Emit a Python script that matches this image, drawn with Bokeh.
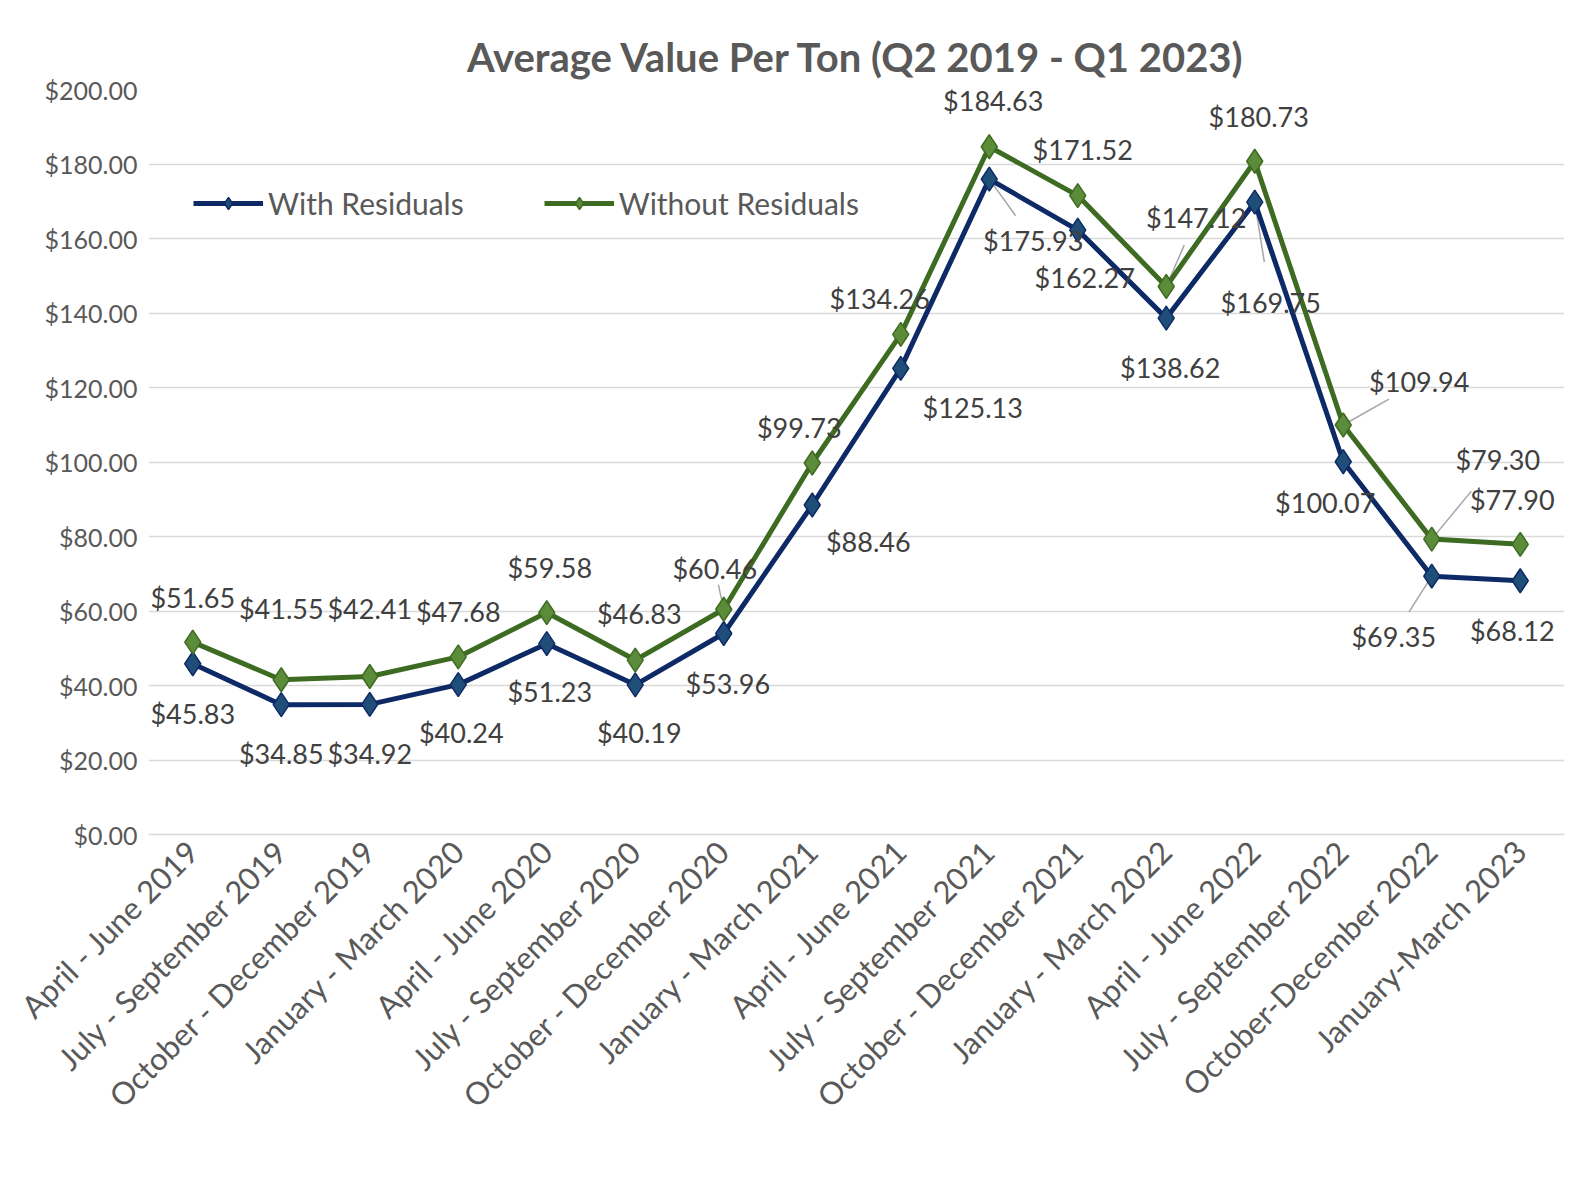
import math
from bokeh.plotting import figure
from bokeh.models import ColumnDataSource, NumeralTickFormatter, Legend, LegendItem, FactorRange
from bokeh.core.properties import value
from bokeh.transform import dodge
from bokeh.embed import file_html
from bokeh.resources import INLINE

categories = ["April - June 2019", "July - September 2019", "October - December 2019",
              "January - March 2020", "April - June 2020", "July - September 2020",
              "October - December 2020", "January - March 2021", "April - June 2021",
              "July - September 2021", "October - December 2021", "January - March 2022",
              "April - June 2022", "July - September 2022", "October-December 2022",
              "January-March 2023"]
with_res = [45.83, 34.85, 34.92, 40.24, 51.23, 40.19, 53.96, 88.46, 125.13, 175.93,
            162.27, 138.62, 169.75, 100.07, 69.35, 68.12]
without_res = [51.65, 41.55, 42.41, 47.68, 59.58, 46.83, 60.46, 99.73, 134.26, 184.63,
               171.52, 147.12, 180.73, 109.94, 79.30, 77.90]

# label placement offsets (screen pixels)
blue_dx = [0, 0, 0, 3, 3, 4, 4, 56, 72, 44, 7, 4, 16, -18, -38, -8]
blue_dy = [50, 49, 49, 48, 48, 48, 50, 37, 39, 61, 47, 49, 100, 41, 60, 50]
green_dx = [0, 0, 0, 0, 3, 4, -9, -13, -21, 4, 5, 30, 4, 76, 66, -8]
green_dy = [-45, -71, -68, -45, -45, -47, -41, -36, -36, -46, -46, -69, -45, -43, -80, -45]

BLUE_LINE = "#0E2A66"
BLUE_MK = "#1F4E79"
GREEN_LINE = "#3E6B22"
GREEN_MK = "#5B8C3A"
FONT = "Lato"

p = figure(width=1567, height=1185, x_range=FactorRange(*categories), y_range=(0, 200),
           output_backend="svg", toolbar_location=None,
           min_border_left=148, min_border_right=3, min_border_top=89, min_border_bottom=351)
p.title.text = "Average Value Per Ton (Q2 2019 - Q1 2023)"
p.title.align = "center"
p.title.text_font = FONT
p.title.text_font_size = "40px"
p.title.text_color = "#595959"
p.title.text_font_style = "bold"
p.title.standoff = 18
p.outline_line_color = None
p.xgrid.grid_line_color = None
p.ygrid.grid_line_color = "#D9D9D9"
p.ygrid.grid_line_width = 1.5
p.yaxis.ticker = list(range(0, 201, 20))
p.yaxis.formatter = NumeralTickFormatter(format="$0.00")
p.yaxis.axis_line_color = None
p.yaxis.major_tick_line_color = None
p.yaxis.minor_tick_line_color = None
p.xaxis.axis_line_color = "#D9D9D9"
p.xaxis.axis_line_width = 1.5
p.xaxis.major_tick_line_color = None
p.xaxis.major_label_orientation = math.pi / 4
for ax in (p.xaxis, p.yaxis):
    ax.major_label_text_font = FONT
    ax.major_label_text_color = "#595959"
p.xaxis.major_label_text_font_size = "31px"
p.yaxis.major_label_text_font_size = "25px"

src = ColumnDataSource(dict(x=categories, w=with_res, wo=without_res,
                            wl=[f"${v:.2f}" for v in with_res],
                            wol=[f"${v:.2f}" for v in without_res],
                            bdx=blue_dx, bdy=blue_dy, gdx=green_dx, gdy=green_dy))

# leader lines (convert pixel offsets to data units)
px_y = 745 / 200.0
px_x = 1416 / 16.0
lead_b = [9, 12, 14]
lead_g = [6, 11, 13, 14]
segs = []
for i in lead_b:
    segs.append((categories[i], with_res[i], blue_dx[i] * 0.6 / px_x, with_res[i] - blue_dy[i] * 0.6 / px_y))
for i in lead_g:
    segs.append((categories[i], without_res[i], green_dx[i] * 0.6 / px_x, without_res[i] - green_dy[i] * 0.6 / px_y))
for cat, y0, dxd, y1 in segs:
    p.segment(x0=dodge("x", 0, range=p.x_range), y0="y0",
              x1=dodge("x", dxd, range=p.x_range), y1="y1",
              source=ColumnDataSource(dict(x=[cat], y0=[y0], y1=[y1])),
              line_color="#A6A6A6", line_width=1.5)

lb = p.line("x", "w", source=src, line_color=BLUE_LINE, line_width=5)
mb = p.scatter("x", "w", source=src, marker="diamond", size=24, fill_color=BLUE_MK,
               line_color=BLUE_LINE, line_width=1.5)
lg = p.line("x", "wo", source=src, line_color=GREEN_LINE, line_width=5)
mg = p.scatter("x", "wo", source=src, marker="diamond", size=24, fill_color=GREEN_MK,
               line_color=GREEN_LINE, line_width=1.5)

for col, dx, dy, y in (("wl", "bdx", "bdy", "w"), ("wol", "gdx", "gdy", "wo")):
    p.text("x", y, text=col, x_offset=dx, y_offset=dy, source=src,
           text_font=value(FONT), text_font_size="27px", text_color="#404040",
           text_align="center", text_baseline="middle")

legend = Legend(items=[LegendItem(label="With Residuals", renderers=[lb, mb]),
                       LegendItem(label="Without Residuals", renderers=[lg, mg])],
                orientation="horizontal", location=(45, 613),
                label_text_font=FONT, label_text_font_size="30px", label_text_color="#595959",
                glyph_width=70, glyph_height=30, spacing=80, background_fill_alpha=0,
                border_line_color=None)
p.add_layout(legend)

open("out.html", "w").write(file_html(p, INLINE))
